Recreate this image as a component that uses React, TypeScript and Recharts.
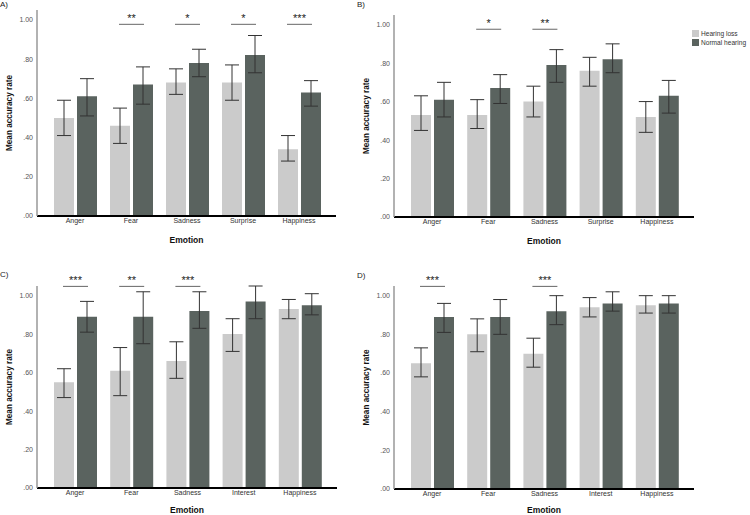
import { Bar, BarChart, ErrorBar, LabelList, Legend, XAxis, YAxis } from "recharts";

const categoriesAB = ["Anger", "Fear", "Sadness", "Surprise", "Happiness"];
const categoriesCD = ["Anger", "Fear", "Sadness", "Interest", "Happiness"];
const yTicks = [0, 0.2, 0.4, 0.6, 0.8, 1.0];

// A)
const hlMeanA = [0.5, 0.46, 0.68, 0.68, 0.34];
const hlLowA = [0.41, 0.37, 0.62, 0.59, 0.28];
const hlHighA = [0.59, 0.55, 0.75, 0.77, 0.41];
const nhMeanA = [0.61, 0.67, 0.78, 0.82, 0.63];
const nhLowA = [0.51, 0.57, 0.71, 0.73, 0.56];
const nhHighA = [0.7, 0.76, 0.85, 0.92, 0.69];
const sigA = ["", "**", "*", "*", "***"];

// B)
const hlMeanB = [0.53, 0.53, 0.6, 0.76, 0.52];
const hlLowB = [0.45, 0.46, 0.52, 0.68, 0.44];
const hlHighB = [0.63, 0.61, 0.68, 0.83, 0.6];
const nhMeanB = [0.61, 0.67, 0.79, 0.82, 0.63];
const nhLowB = [0.52, 0.59, 0.7, 0.75, 0.54];
const nhHighB = [0.7, 0.74, 0.87, 0.9, 0.71];
const sigB = ["", "*", "**", "", ""];

// C)
const hlMeanC = [0.55, 0.61, 0.66, 0.8, 0.93];
const hlLowC = [0.47, 0.48, 0.57, 0.71, 0.88];
const hlHighC = [0.62, 0.73, 0.76, 0.88, 0.98];
const nhMeanC = [0.89, 0.89, 0.92, 0.97, 0.95];
const nhLowC = [0.81, 0.75, 0.83, 0.88, 0.9];
const nhHighC = [0.97, 1.02, 1.02, 1.05, 1.01];
const sigC = ["***", "**", "***", "", ""];

// D)
const hlMeanD = [0.65, 0.8, 0.7, 0.94, 0.95];
const hlLowD = [0.58, 0.71, 0.63, 0.89, 0.91];
const hlHighD = [0.73, 0.88, 0.78, 0.99, 1.0];
const nhMeanD = [0.89, 0.89, 0.92, 0.96, 0.96];
const nhLowD = [0.81, 0.8, 0.85, 0.92, 0.91];
const nhHighD = [0.96, 0.98, 1.0, 1.02, 1.0];
const sigD = ["***", "", "***", "", ""];

const HL_COLOR = "#cbcbcb";
const NH_COLOR = "#5a635f";
const FONT = "'Liberation Sans', Arial, sans-serif";
const LEGEND_W = 58;

function build(
  cats: string[],
  hlMean: number[],
  hlLow: number[],
  hlHigh: number[],
  nhMean: number[],
  nhLow: number[],
  nhHigh: number[],
  sig: string[]
) {
  return cats.map((c, i) => ({
    name: c,
    hl: hlMean[i],
    nh: nhMean[i],
    hlErr: [hlMean[i] - hlLow[i], hlHigh[i] - hlMean[i]],
    nhErr: [nhMean[i] - nhLow[i], nhHigh[i] - nhMean[i]],
    sig: sig[i],
  }));
}

const fmtTick = (v: number) => (v >= 1 ? "1.00" : v.toFixed(2).replace(/^0/, ""));

function renderLegend() {
  const items = [
    { label: "Hearing loss", color: HL_COLOR },
    { label: "Normal hearing", color: NH_COLOR },
  ];
  return (
    <div style={{ fontFamily: FONT, fontSize: 6.6, color: "#333", whiteSpace: "nowrap" }}>
      {items.map((it) => (
        <div key={it.label} style={{ display: "flex", alignItems: "center", height: 9 }}>
          <span style={{ width: 7, height: 7, background: it.color, marginRight: 2 }} />
          {it.label}
        </div>
      ))}
    </div>
  );
}

interface PanelProps {
  letter: string;
  // eslint-disable-next-line @typescript-eslint/no-explicit-any
  data: any[];
  left: number;
  top: number;
  width: number;
  height: number;
  marginTop: number;
  marginRight: number;
  xAxisHeight: number;
  sigLevel: number;
  letterTop: number;
  titleDy: number;
  legend?: boolean;
}

function Panel({
  letter,
  data,
  left,
  top,
  width,
  height,
  marginTop,
  marginRight,
  xAxisHeight,
  sigLevel,
  letterTop,
  titleDy,
  legend,
}: PanelProps) {
  // eslint-disable-next-line @typescript-eslint/no-explicit-any
  const sigMark = (p: any) => {
    const { x, y, width: w, height: h, index, value } = p;
    if (!value) return null;
    const mean = data[index].nh;
    const base = y + h;
    const ly = base - (sigLevel * h) / mean;
    const cx = x + w / 2;
    const x1 = cx - (w + 3);
    return (
      <g>
        <line x1={x1 - 1} x2={cx + 1} y1={ly} y2={ly} stroke="#666" strokeWidth={1} />
        <text
          x={(x1 + cx) / 2}
          y={ly - 2}
          textAnchor="middle"
          fontSize={11}
          fontFamily={FONT}
          fill="#222"
        >
          {value}
        </text>
      </g>
    );
  };

  // the legend's width is added to the right offset, so take it off the margin
  const right = legend ? marginRight - LEGEND_W : marginRight;

  return (
    <div style={{ position: "absolute", left, top, width, height }}>
      <div
        style={{
          position: "absolute",
          left: 0,
          top: letterTop,
          fontFamily: FONT,
          fontSize: 8,
          color: "#222",
        }}
      >
        {letter}
      </div>
      <BarChart
        width={width}
        height={height}
        data={data}
        margin={{ top: marginTop, right, bottom: 0, left: 0 }}
        barSize={20}
        barGap={3}
      >
        <XAxis
          dataKey="name"
          padding={{ left: 10, right: 9 }}
          height={xAxisHeight}
          axisLine={{ stroke: "#000", strokeWidth: 2 }}
          tickLine={false}
          tickSize={2}
          tickMargin={0}
          tick={{ fill: "#333", fontSize: 7, fontFamily: FONT }}
          interval={0}
          label={{
            value: "Emotion",
            // eslint-disable-next-line @typescript-eslint/no-explicit-any
            content: (p: any) => {
              const vb = p.viewBox;
              return (
                <text
                  x={vb.x + vb.width / 2}
                  y={vb.y + titleDy}
                  textAnchor="middle"
                  fontSize={8.5}
                  fontWeight="bold"
                  fontFamily={FONT}
                  fill="#111"
                >
                  Emotion
                </text>
              );
            },
          }}
        />
        <YAxis
          width={37}
          domain={[0, 1.05]}
          ticks={yTicks}
          tickFormatter={fmtTick}
          allowDataOverflow
          axisLine={{ stroke: "#999", strokeWidth: 1.5 }}
          tickLine={false}
          tickSize={3}
          tickMargin={1}
          tick={{ fill: "#555", fontSize: 7, fontFamily: FONT }}
          label={{
            value: "Mean accuracy rate",
            // eslint-disable-next-line @typescript-eslint/no-explicit-any
            content: (p: any) => {
              const vb = p.viewBox;
              const cx = vb.x + 9;
              const cy = vb.y + vb.height / 2;
              return (
                <text
                  x={cx}
                  y={cy}
                  transform={`rotate(-90 ${cx} ${cy})`}
                  textAnchor="middle"
                  dominantBaseline="central"
                  fontSize={8.2}
                  fontWeight="bold"
                  fontFamily={FONT}
                  fill="#111"
                >
                  Mean accuracy rate
                </text>
              );
            },
          }}
        />
        {legend && (
          <Legend
            content={renderLegend}
            layout="vertical"
            align="right"
            verticalAlign="top"
            wrapperStyle={{
              position: "absolute",
              left: width - LEGEND_W,
              top: 29,
              width: LEGEND_W,
            }}
          />
        )}
        <Bar dataKey="hl" name="Hearing loss" fill={HL_COLOR} isAnimationActive={false}>
          <ErrorBar dataKey="hlErr" width={7} stroke="#333" strokeWidth={1} />
        </Bar>
        <Bar dataKey="nh" name="Normal hearing" fill={NH_COLOR} isAnimationActive={false}>
          <ErrorBar dataKey="nhErr" width={7} stroke="#333" strokeWidth={1} />
          <LabelList dataKey="sig" content={sigMark} />
        </Bar>
      </BarChart>
    </div>
  );
}

export default function App() {
  const dataA = build(categoriesAB, hlMeanA, hlLowA, hlHighA, nhMeanA, nhLowA, nhHighA, sigA);
  const dataB = build(categoriesAB, hlMeanB, hlLowB, hlHighB, nhMeanB, nhLowB, nhHighB, sigB);
  const dataC = build(categoriesCD, hlMeanC, hlLowC, hlHighC, nhMeanC, nhLowC, nhHighC, sigC);
  const dataD = build(categoriesCD, hlMeanD, hlLowD, hlHighD, nhMeanD, nhLowD, nhHighD, sigD);

  return (
    <div
      style={{
        position: "absolute",
        left: 0,
        top: 0,
        width: 750,
        height: 515,
        background: "#fff",
        overflow: "hidden",
      }}
    >
      <Panel
        letter="A)"
        data={dataA}
        left={0}
        top={0}
        width={357}
        height={255}
        marginTop={10}
        marginRight={21}
        xAxisHeight={39}
        sigLevel={0.977}
        letterTop={0}
        titleDy={27}
      />
      <Panel
        letter="B)"
        data={dataB}
        left={357}
        top={0}
        width={393}
        height={255}
        marginTop={15}
        marginRight={56}
        xAxisHeight={38}
        sigLevel={0.976}
        letterTop={0}
        titleDy={27}
        legend
      />
      <Panel
        letter="C)"
        data={dataC}
        left={0}
        top={255}
        width={357}
        height={260}
        marginTop={31}
        marginRight={20}
        xAxisHeight={27}
        sigLevel={1.048}
        letterTop={15}
        titleDy={25}
      />
      <Panel
        letter="D)"
        data={dataD}
        left={357}
        top={255}
        width={393}
        height={260}
        marginTop={31}
        marginRight={56}
        xAxisHeight={26}
        sigLevel={1.048}
        letterTop={16}
        titleDy={24}
      />
    </div>
  );
}
